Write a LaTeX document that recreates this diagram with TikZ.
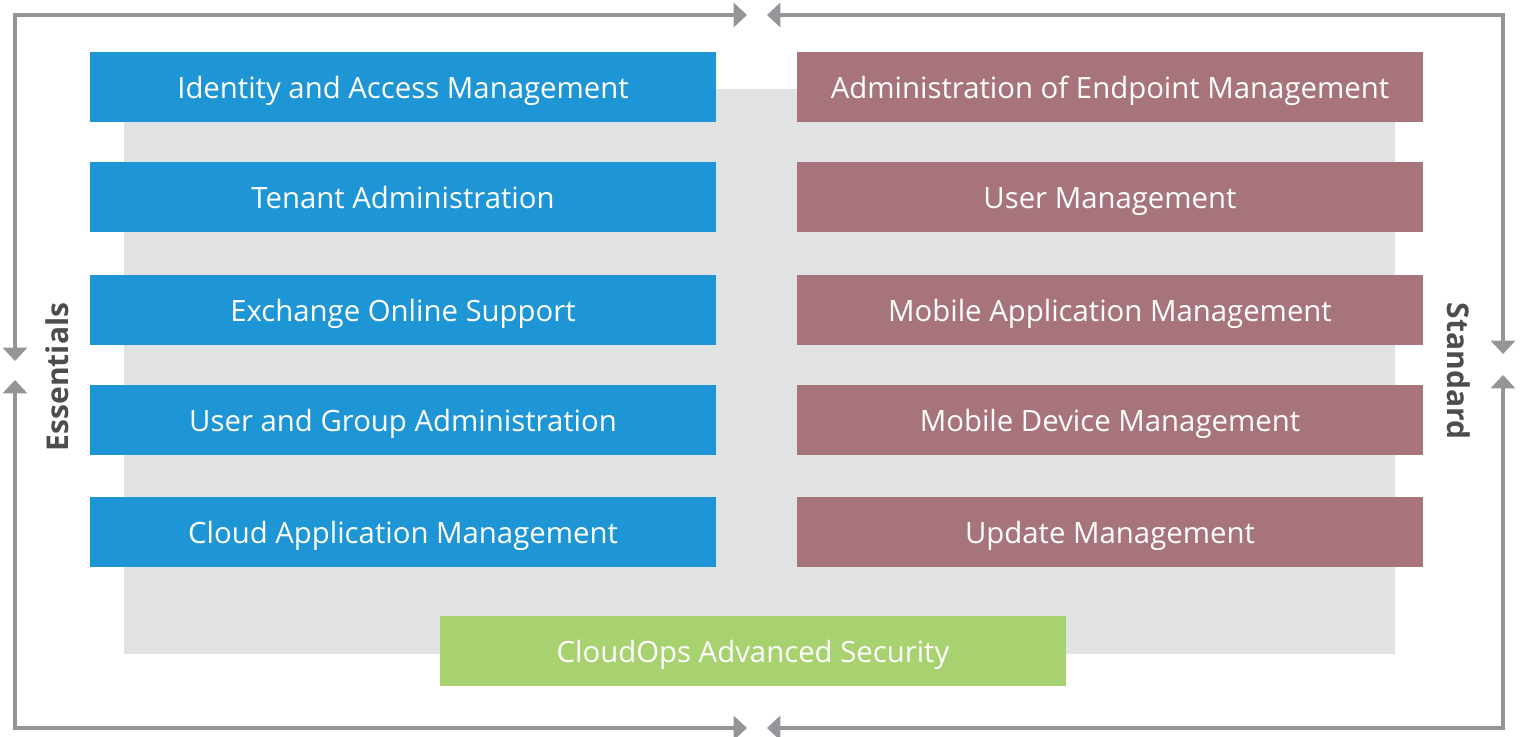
\documentclass[tikz,border=0pt]{standalone}
\usepackage{fontspec}
\setmainfont{Open Sans}
\usetikzlibrary{arrows.meta}

\definecolor{esblue}{HTML}{1E95D4}
\definecolor{stdrose}{HTML}{A8747C}
\definecolor{secgreen}{HTML}{A8D26F}
\definecolor{panelgray}{HTML}{E1E2E4}
\definecolor{framegray}{HTML}{939598}
\definecolor{labelgray}{HTML}{4D4D4D}

\tikzset{
	tile/.style={minimum width=469.5pt, minimum height=52.5pt, inner sep=0pt, text height=17pt, text depth=0pt, text=white, font=\fontsize{22}{26}\selectfont},
	esbox/.style={tile, fill=esblue},
	stdbox/.style={tile, fill=stdrose},
	secbox/.style={tile, fill=secgreen},
	loopline/.style={draw=framegray, line width=3pt, line join=miter, {Triangle[width=18pt,length=10pt]}-{Triangle[width=18pt,length=10pt]}},
	sidelabel/.style={text=labelgray, font=\bfseries\fontsize{22.5}{26}\selectfont}
}

\begin{document}
\begin{tikzpicture}[x=0.75pt, y=-0.75pt]
		
		\useasboundingbox (0,0) rectangle (1522,737);
		
		\fill[panelgray] (124,89) rectangle (1395,654);
		
		% left column
		\node[esbox] (iam) at (403,87) {Identity and Access Management};
		\node[esbox] (tenant) at (403,197) {Tenant Administration};
		\node[esbox] (exchange) at (403,310) {Exchange Online Support};
		\node[esbox] (usergroup) at (403,420) {User and Group Administration};
		\node[esbox] (cloudapp) at (403,532) {Cloud Application Management};
		
		% right column
		\node[stdbox] (endpoint) at (1110,87) {Administration of Endpoint Management};
		\node[stdbox] (usermgmt) at (1110,197) {User Management};
		\node[stdbox] (mobileapp) at (1110,310) {Mobile Application Management};
		\node[stdbox] (mobiledev) at (1110,420) {Mobile Device Management};
		\node[stdbox] (update) at (1110,532) {Update Management};
		
		\node[secbox] (security) at (753,651) {CloudOps Advanced Security};
		
		\node[sidelabel, rotate=90] (essentials) at (57,377) {Essentials};
		\node[sidelabel, rotate=-90] (standard) at (1459,371) {Standard};
		
		% loop arrows
		\coordinate (leftdown) at (15,361);
		\coordinate (leftup) at (15,380);
		\coordinate (rightdown) at (1503,354);
		\coordinate (rightup) at (1503,375);
		\coordinate (topright) at (747,15);
		\coordinate (topleft) at (767,15);
		\coordinate (botright) at (747,728);
		\coordinate (botleft) at (767,728);
		
		\draw[loopline] (leftdown) |- (topright);
		\draw[loopline] (rightdown) |- (topleft);
		\draw[loopline] (leftup) |- (botright);
		\draw[loopline] (rightup) |- (botleft);
		
		\end{tikzpicture}
\end{document}
